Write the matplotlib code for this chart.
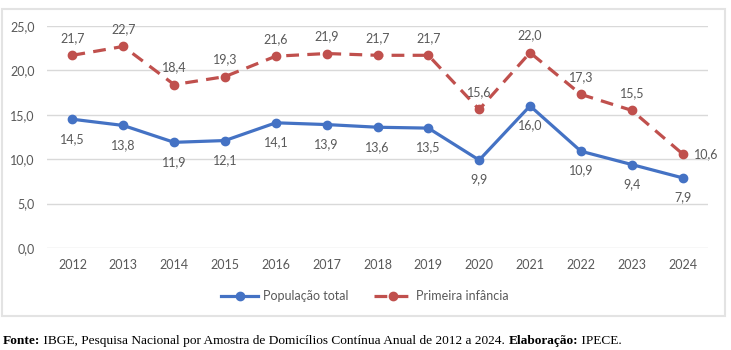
import matplotlib.pyplot as plt
from matplotlib.patches import Rectangle

# Dados
anos = ['2012', '2013', '2014', '2015', '2016', '2017', '2018',
        '2019', '2020', '2021', '2022', '2023', '2024']
pop_total = [14.5, 13.8, 11.9, 12.1, 14.1, 13.9, 13.6, 13.5, 9.9, 16.0, 10.9, 9.4, 7.9]
primeira_inf = [21.7, 22.7, 18.4, 19.3, 21.6, 21.9, 21.7, 21.7, 15.6, 22.0, 17.3, 15.5, 10.6]

azul = '#4472C4'
vermelho = '#C0504D'
cinza = '#595959'

plt.rcParams['font.family'] = ['Lato', 'DejaVu Sans']

fig = plt.figure(figsize=(7.31, 3.5), dpi=100)
ax = fig.add_axes([47 / 731, 1 - 248 / 350, 661 / 731, 222 / 350])

x = list(range(len(anos)))
ax.plot(x, pop_total, color=azul, lw=2.3, marker='o', ms=6,
        label='População total')
ax.plot(x, primeira_inf, color=vermelho, lw=2.3, marker='o', ms=6,
        dashes=(4, 2.6), label='Primeira infância')


def fmt(v):
    return f'{v:.1f}'.replace('.', ',')


for i, v in enumerate(pop_total):
    ax.annotate(fmt(v), (i, v), xytext=(0, -14), textcoords='offset points',
                ha='center', va='center', fontsize=9, color=cinza)
for i, v in enumerate(primeira_inf):
    if i == len(primeira_inf) - 1:
        ax.annotate(fmt(v), (i, v), xytext=(17, 0), textcoords='offset points',
                    ha='center', va='center', fontsize=9, color=cinza)
    else:
        ax.annotate(fmt(v), (i, v), xytext=(0, 12.5), textcoords='offset points',
                    ha='center', va='center', fontsize=9, color=cinza)

ax.set_xlim(-0.5, len(anos) - 0.5)
ax.set_ylim(0, 25)
ax.set_yticks([0, 5, 10, 15, 20, 25])
ax.set_yticklabels([fmt(t) for t in [0, 5, 10, 15, 20, 25]])
ax.set_xticks(x)
ax.set_xticklabels(anos)
ax.tick_params(length=0, labelsize=9, colors=cinza, pad=8)
ax.tick_params(axis='y', pad=9)
ax.grid(axis='y', color='#D9D9D9', lw=1)
ax.set_axisbelow(True)
for s in ax.spines.values():
    s.set_visible(False)

fig.legend(loc='center', bbox_to_anchor=(365 / 731, 1 - 296 / 350), ncol=2,
           frameon=False, fontsize=9, labelcolor=cinza, handlelength=3,
           columnspacing=2, handletextpad=0.4)

# moldura do gráfico
fig.patches.append(Rectangle((2 / 731, 1 - 316 / 350), 723 / 731, 307 / 350,
                             transform=fig.transFigure, fill=False,
                             edgecolor='#E3E3E3', lw=1.5))

# nota de fonte, montada por partes
partes = [('Fonte:', 'bold'),
          (' IBGE, Pesquisa Nacional por Amostra de Domicílios Contínua Anual de 2012 a 2024. ', 'normal'),
          ('Elaboração:', 'bold'),
          (' IPECE.', 'normal')]
renderer = fig.canvas.get_renderer()
xpos = 3
for txt, peso in partes:
    t = fig.text(xpos / 731, 1 - 341 / 350, txt, fontsize=9.6, fontweight=peso,
                 family='Liberation Serif', va='center', ha='left')
    bb = t.get_window_extent(renderer)
    xpos += bb.width

fig.savefig('out.png', dpi=100)
